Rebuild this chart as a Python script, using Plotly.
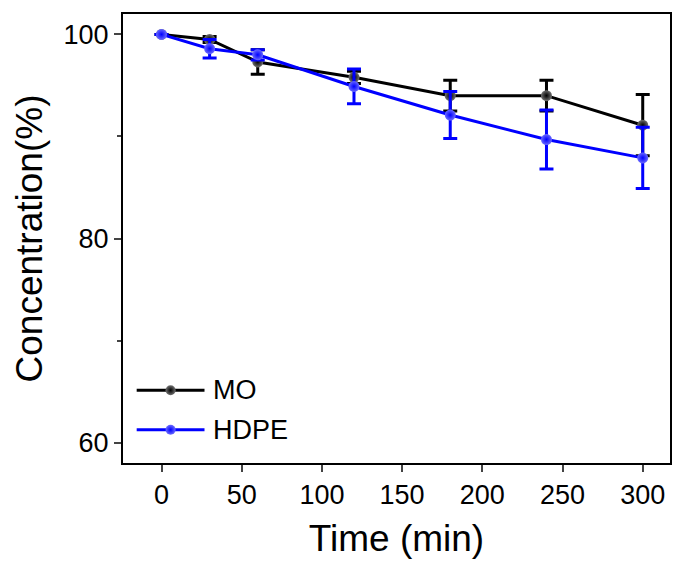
import plotly.graph_objects as go

time_min = [0, 30, 60, 120, 180, 240, 300]
mo_conc = [100.0, 99.5, 97.3, 95.8, 94.0, 94.0, 91.1]
mo_err = [0.0, 0.3, 1.2, 0.6, 1.5, 1.5, 3.0]
hdpe_conc = [100.0, 98.6, 98.0, 94.9, 92.1, 89.7, 87.9]
hdpe_err = [0.0, 0.9, 0.5, 1.7, 2.3, 2.9, 3.0]
series_names = ["MO", "HDPE"]
x_ticks = [0, 50, 100, 150, 200, 250, 300]
y_ticks = [60, 80, 100]

FONT = "Liberation Sans, Arial, sans-serif"
colors = ["#000000", "#0000ff"]
centers = ["#707070", "#6a6aff"]

fig = go.Figure()
for name, y, e, c, cc in [(series_names[0], mo_conc, mo_err, colors[0], centers[0]),
                          (series_names[1], hdpe_conc, hdpe_err, colors[1], centers[1])]:
    fig.add_trace(go.Scatter(
        x=time_min, y=y, name=name, mode="lines+markers",
        line=dict(color=c, width=3),
        marker=dict(size=11, color=cc, gradient=dict(type="radial", color=c),
                    line=dict(width=0)),
        error_y=dict(type="data", array=e, visible=True, color=c, thickness=3, width=7),
        showlegend=False,
    ))

# manual legend (line sample + marker + label), in an overlay paper-like axis
leg_y = [0.162, 0.074]
for i, (name, c, cc) in enumerate(zip(series_names, colors, centers)):
    fig.add_trace(go.Scatter(
        x=[0.025, 0.149], y=[leg_y[i], leg_y[i]], xaxis="x2", yaxis="y2",
        mode="lines", line=dict(color=c, width=3), showlegend=False, hoverinfo="skip"))
    fig.add_trace(go.Scatter(
        x=[0.087], y=[leg_y[i]], xaxis="x2", yaxis="y2", mode="markers",
        marker=dict(size=10, color=cc, gradient=dict(type="radial", color=c), line=dict(width=0)),
        showlegend=False, hoverinfo="skip"))
    fig.add_annotation(x=0.160, y=leg_y[i], xref="x2", yref="y2", text=name,
                       showarrow=False, xanchor="left", yanchor="middle",
                       font=dict(family=FONT, size=27, color="black"))

fig.update_layout(
    width=684, height=568,
    margin=dict(l=123, r=14, t=12, b=105),
    paper_bgcolor="white", plot_bgcolor="white",
    font=dict(family=FONT, color="black"),
    xaxis=dict(range=[-24, 317], tickvals=x_ticks, ticks="outside", ticklen=7, tickwidth=2,
               showline=True, linewidth=2, linecolor="black", mirror=True, showgrid=False,
               zeroline=False, tickfont=dict(size=27, family=FONT),
               title=dict(text="Time (min)", font=dict(size=37, family=FONT), standoff=16)),
    yaxis=dict(range=[58, 102], tickvals=y_ticks, ticks="outside", ticklen=7, tickwidth=2,
               minor=dict(tickvals=[70, 90], ticks="outside", ticklen=4, tickwidth=2),
               showline=True, linewidth=2, linecolor="black", mirror=True, showgrid=False,
               zeroline=False, tickfont=dict(size=27, family=FONT),
               title=dict(text="Concentration(%)", font=dict(size=37, family=FONT), standoff=10)),
    xaxis2=dict(overlaying="x", range=[0, 1], visible=False, fixedrange=True),
    yaxis2=dict(overlaying="y", range=[0, 1], visible=False, fixedrange=True),
)

fig.write_html("out.html")
